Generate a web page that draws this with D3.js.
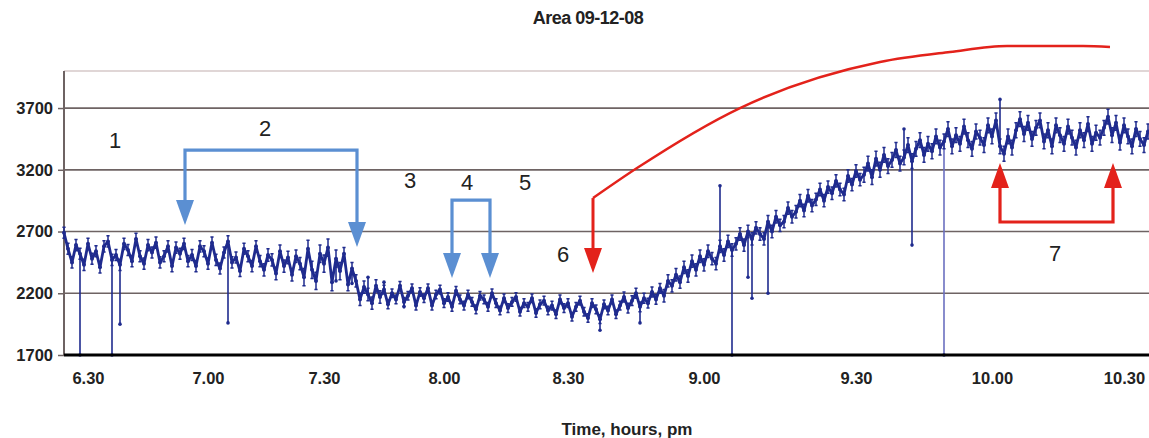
<!DOCTYPE html>
<html>
<head>
<meta charset="utf-8">
<script src="https://cdn.jsdelivr.net/npm/d3@7"></script>
<style>
  body { margin: 0; background: #fff; }
  svg text { font-family: "Liberation Sans", Arial, sans-serif; }
</style>
</head>
<body>
<svg id="chart" width="1149" height="438"></svg>
<script>
const title = "Area 09-12-08";
const xTitle = "Time, hours, pm";

const yTicks = [1700, 2200, 2700, 3200, 3700];
const xTickLabels = ["6.30", "7.00", "7.30", "8.00", "8.30", "9.00", "9.30", "10.00", "10.30"];
const xTickIndex = [6, 36, 65, 95, 126, 160, 198, 232, 265];

// readings, one every sample
const values = [
  2690, 2560, 2450, 2590, 2520, 2430, 2600, 2480, 2540, 2410,
  2580, 2620, 2470, 2510, 2430, 2600, 2550, 2460, 2640, 2500,
  2440, 2590, 2530, 2610, 2450, 2500, 2580, 2420, 2570, 2520,
  2600, 2460, 2510, 2420, 2580, 2540, 2440, 2610, 2470, 2400,
  2530, 2620, 2450, 2490, 2380, 2560, 2500, 2420, 2580, 2460,
  2390, 2510, 2470, 2360, 2540, 2420, 2490, 2350, 2500, 2440,
  2330, 2560, 2390, 2300, 2520, 2440, 2570, 2290, 2480, 2380,
  2520, 2270, 2400, 2300, 2150, 2250, 2190, 2120, 2260, 2170,
  2230, 2110, 2200, 2150, 2260, 2130, 2180, 2240, 2100, 2210,
  2160, 2240, 2100, 2190, 2230, 2120, 2170, 2090, 2220, 2150,
  2100, 2190, 2130, 2070, 2180, 2150, 2090, 2200, 2120, 2060,
  2160, 2080, 2130, 2170, 2050, 2120, 2090, 2160, 2040, 2110,
  2140, 2060, 2100, 2030, 2150, 2080, 2120, 2010, 2090, 2140,
  2050, 2000, 2120, 2070, 1990, 2110, 2060, 2150, 2030, 2100,
  2170, 2080, 2140, 2200, 2090, 2160, 2120, 2210, 2150, 2240,
  2180, 2300, 2260, 2350, 2290, 2410, 2340, 2460, 2390, 2500,
  2430, 2540, 2480, 2440, 2580, 2510, 2620, 2550, 2600, 2680,
  2590, 2700, 2640, 2730, 2680, 2640, 2780, 2700, 2820, 2750,
  2780, 2890, 2820, 2860, 2950, 2870, 2990, 2910, 2960, 3040,
  2950, 3060, 3010, 3110, 3040, 3000, 3150, 3080, 3190, 3120,
  3160, 3250, 3140, 3290, 3200, 3320, 3230, 3280, 3360, 3250,
  3300, 3400, 3270, 3370, 3440, 3320, 3410, 3350, 3470, 3380,
  3430, 3530, 3390, 3480, 3410, 3550, 3440, 3370, 3510, 3460,
  3400, 3560, 3470, 3600, 3390, 3330, 3470, 3380, 3520, 3610,
  3490, 3580, 3450, 3540, 3600, 3430, 3520, 3390, 3560, 3480,
  3410, 3550, 3460, 3380, 3520, 3440, 3570, 3410, 3500, 3460,
  3540, 3630, 3480, 3580, 3420, 3560, 3470, 3390, 3530, 3450,
  3400, 3510
];

// error-bar half-width for each block of ten samples
const errorBlocks = [45, 45, 45, 45, 45, 50, 70, 50, 35, 35, 35, 35, 35, 35,
  40, 50, 50, 50, 50, 50, 60, 60, 60, 60, 60, 60, 60, 60];

// single-sample outliers: [sample, reading]
const spikes = [
  [4, 1700], [12, 1700], [14, 1950], [41, 1960], [68, 2300], [72, 2280],
  [76, 2330], [80, 2290], [85, 2090], [134, 1900], [144, 1960], [164, 3070],
  [167, 1700], [171, 2330], [172, 2160], [176, 2200], [210, 3530],
  [212, 2590], [220, 1700], [234, 3770]
];

// annotations, in sample / reading units
const noteLabels = [
  ["1", 12.75, 3441], ["2", 50.25, 3538], ["3", 86.5, 3117], ["4", 100.75, 3093],
  ["5", 115.25, 3093], ["6", 124.75, 2510], ["7", 247.75, 2526]
];
const blueBrackets = [
  { left: 30.25, right: 73.25, top: 3360, tipL: 2753, tipR: 2575 },
  { left: 97, right: 106.5, top: 2955, tipL: 2324, tipR: 2324 }
];
const redBracket = { left: 234, right: 262.25, base: 2777, tip: 3255 };
const redArrow = { at: 132.25, from: 2971, tip: 2364 };
const redCurve = [
  [132.25, 2971], [143.25, 3214], [169, 3700], [204, 4073],
  [221.5, 4154], [235.75, 4202], [254.75, 4202], [261.5, 4194]
];

const svg = d3.select("#chart");
const W = 1149;
const plotLeft = 64, plotBottom = 355, plotTop = 71;

const x = d3.scaleLinear().domain([0, values.length - 1]).range([plotLeft, 1148]);
const y = d3.scaleLinear().domain([1700, 4000]).range([plotBottom, plotTop]);

const navy = "#1f2b8e";
const blue = "#5b8fd2";
const red = "#e3221b";

svg.append("text").attr("x", 588).attr("y", 24).attr("text-anchor", "middle")
  .attr("font-size", "18px").attr("font-weight", "bold").attr("fill", "#222")
  .attr("letter-spacing", "-0.5").text(title);

// top border
svg.append("line").attr("x1", plotLeft).attr("x2", W).attr("y1", y(4000)).attr("y2", y(4000))
  .attr("stroke", "#d6c8c8").attr("stroke-width", 1.5);

// grid
svg.append("g").selectAll("line").data(yTicks.slice(1)).join("line")
  .attr("x1", plotLeft).attr("x2", W).attr("y1", d => y(d)).attr("y2", d => y(d))
  .attr("stroke", "#6e6363").attr("stroke-width", 1.7);

// y axis
const yAxis = svg.append("g").attr("transform", `translate(${plotLeft},0)`)
  .call(d3.axisLeft(y).tickValues(yTicks).tickSize(6).tickPadding(5).tickFormat(d3.format("d")));
yAxis.select(".domain").attr("stroke", "#6e6363").attr("stroke-width", 2)
  .attr("d", `M0,${y(4000)}V${plotBottom}`);
yAxis.selectAll(".tick line").attr("stroke", "#6e6363").attr("stroke-width", 1.5);
yAxis.selectAll(".tick text").attr("font-size", "16.5px").attr("font-weight", "bold")
  .attr("fill", "#222").attr("font-family", "Liberation Sans, Arial, sans-serif");

// series
const plot = svg.append("g");
plot.append("g").selectAll("line").data(spikes).join("line")
  .attr("x1", d => x(d[0])).attr("x2", d => x(d[0]))
  .attr("y1", d => y(values[d[0]])).attr("y2", d => y(d[1]))
  .attr("stroke", d => d[1] <= 1700 && d[0] > 200 ? "#6b70c0" : navy)
  .attr("stroke-width", 1.6);
plot.append("g").selectAll("circle").data(spikes).join("circle")
  .attr("cx", d => x(d[0])).attr("cy", d => y(d[1])).attr("r", 1.8).attr("fill", navy);

// error bars with small caps
const err = i => errorBlocks[Math.floor(i / 10)];
plot.append("g").selectAll("path").data(values).join("path")
  .attr("d", (d, i) => {
    const cx = x(i), y1 = y(d + err(i)), y2 = y(d - err(i));
    return `M${cx},${y1}V${y2}M${cx - 1.6},${y1}H${cx + 1.6}M${cx - 1.6},${y2}H${cx + 1.6}`;
  })
  .attr("stroke", navy).attr("stroke-width", 1.5).attr("fill", "none");

const line = d3.line().x((d, i) => x(i)).y(d => y(d));
plot.append("path").datum(values).attr("d", line)
  .attr("fill", "none").attr("stroke", navy).attr("stroke-width", 2.8).attr("stroke-linejoin", "round");
plot.append("g").selectAll("circle").data(values).join("circle")
  .attr("cx", (d, i) => x(i)).attr("cy", d => y(d)).attr("r", 2).attr("fill", navy);

// x axis
const xAxis = svg.append("g").attr("transform", `translate(0,${plotBottom})`)
  .call(d3.axisBottom(x).tickValues(xTickIndex).tickSize(0).tickPadding(17)
    .tickFormat((d, i) => xTickLabels[i]));
xAxis.select(".domain").attr("stroke", "#000").attr("stroke-width", 3)
  .attr("d", `M${plotLeft},0H${W}`);
xAxis.selectAll(".tick text").attr("font-size", "16.5px").attr("font-weight", "bold")
  .attr("fill", "#222").attr("font-family", "Liberation Sans, Arial, sans-serif");

svg.append("text").attr("x", 627).attr("y", 435).attr("text-anchor", "middle")
  .attr("font-size", "17px").attr("font-weight", "bold").attr("fill", "#222").text(xTitle);

// annotations
const head = (tx, ty, dir) =>
  `M${tx - 9},${ty - dir * 25}L${tx + 9},${ty - dir * 25}L${tx},${ty}Z`;

const notes = svg.append("g");
blueBrackets.forEach(b => {
  const xl = x(b.left), xr = x(b.right), yt = y(b.top);
  notes.append("path")
    .attr("d", `M${xl},${y(b.tipL) - 23}V${yt}H${xr}V${y(b.tipR) - 23}`)
    .attr("fill", "none").attr("stroke", blue).attr("stroke-width", 3.2);
  notes.append("path").attr("d", head(xl, y(b.tipL), 1)).attr("fill", blue);
  notes.append("path").attr("d", head(xr, y(b.tipR), 1)).attr("fill", blue);
});

notes.append("path").datum(redCurve)
  .attr("d", d3.line().x(d => x(d[0])).y(d => y(d[1])).curve(d3.curveMonotoneX))
  .attr("fill", "none").attr("stroke", red).attr("stroke-width", 2.4);
notes.append("path")
  .attr("d", `M${x(redArrow.at)},${y(redArrow.from)}V${y(redArrow.tip) - 23}`)
  .attr("stroke", red).attr("stroke-width", 3);
notes.append("path").attr("d", head(x(redArrow.at), y(redArrow.tip), 1)).attr("fill", red);

const rl = x(redBracket.left), rr = x(redBracket.right), rb = y(redBracket.base);
notes.append("path")
  .attr("d", `M${rl},${y(redBracket.tip) + 23}V${rb}H${rr}V${y(redBracket.tip) + 23}`)
  .attr("fill", "none").attr("stroke", red).attr("stroke-width", 3.2);
notes.append("path").attr("d", head(rl, y(redBracket.tip), -1)).attr("fill", red);
notes.append("path").attr("d", head(rr, y(redBracket.tip), -1)).attr("fill", red);

notes.append("g").selectAll("text").data(noteLabels).join("text")
  .attr("x", d => x(d[1])).attr("y", d => y(d[2]))
  .attr("text-anchor", "middle").attr("dominant-baseline", "central")
  .attr("font-size", "22px").attr("fill", "#222").text(d => d[0]);
</script>
</body>
</html>
